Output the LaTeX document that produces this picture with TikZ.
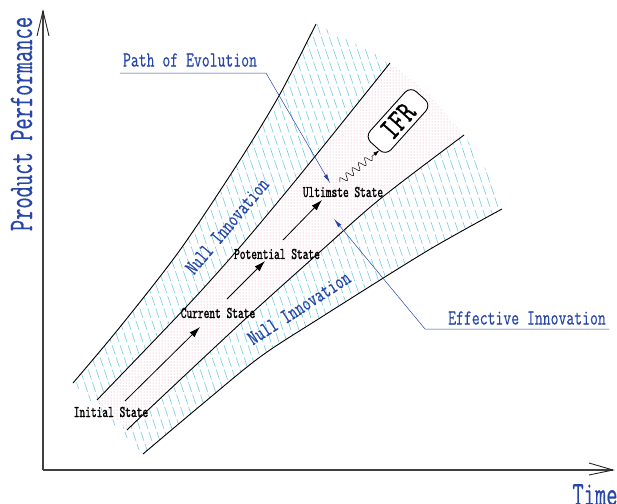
\documentclass[tikz,border=0pt]{standalone}
\usepackage{fontspec}
\usepackage{graphicx}
\usetikzlibrary{arrows.meta,patterns,decorations.pathmorphing,calc}
\newfontfamily\lblfont{Latin Modern Mono}[FakeBold=0.6]
\newfontfamily\lblfontb{Latin Modern Mono}[FakeBold=1.6]
\newfontfamily\ifrfont{Latin Modern Mono}[FakeBold=1.1]
\definecolor{myblue}{RGB}{40,70,170}
\definecolor{hatchc}{RGB}{110,200,220}
\definecolor{pinkdot}{RGB}{225,130,175}
\newcommand\vstretch[2][1.5]{\scalebox{1}[#1]{#2}}
\begin{document}
\begin{tikzpicture}[x=1pt,y=-1pt,
  boundary/.style={line width=0.9pt,black},
  hatchline/.style={draw=hatchc,line width=0.6pt,dash pattern=on 10pt off 3pt},
  leader/.style={myblue,line width=0.5pt,-{Latex[length=9pt,width=4pt]}},
  evo/.style={line width=0.8pt,-{Latex[length=11pt,width=7pt]}},
  axisline/.style={line width=1.4pt,black!75},
  axishead/.style={line width=0.9pt,black!85},
  bluelbl/.style={text=myblue,inner sep=0pt,font=\lblfont\fontsize{15.3}{16}\selectfont},
  bigblue/.style={text=myblue,inner sep=0pt,font=\lblfont\fontsize{21.9}{22}\selectfont},
  blacklbl/.style={inner sep=0pt,font=\lblfontb\fontsize{10.9}{11}\selectfont},
  ifrbox/.style={draw,line width=0.9pt,fill=white,rounded corners=8pt,minimum width=68pt,minimum height=28pt,inner sep=0pt,font=\ifrfont\fontsize{24}{24}\selectfont},
  wavy/.style={line width=0.5pt,decorate,decoration={snake,amplitude=3.5pt,segment length=8pt,post length=7pt},-{Latex[length=6pt,width=4pt]}}
]
\useasboundingbox (0,0) rectangle (617,503);

% hatched (null innovation) region
\begin{scope}
\clip plot[smooth] coordinates {(73,383) (120,327) (180,250) (240,160) (280,94) (316,24)}
 -- plot[smooth] coordinates {(316,24) (340,36) (367,50) (390,63) (427,93) (450,119) (464,135) (487,172) (502,209)}
 -- plot[smooth] coordinates {(502,209) (427,251) (320,318) (260,357) (200,406) (143,454)}
 -- cycle;
\foreach \i in {0,...,66} \draw[hatchline] ({-75+8*\i},0) -- ++(170,510);
\end{scope}

% effective innovation (pink dotted) region
\path[fill=white,postaction={pattern=dots,pattern color=pinkdot!85}]
 plot[smooth] coordinates {(97,400) (188,305) (240,247) (300,175) (390,63)}
 -- plot[smooth] coordinates {(390,63) (427,93) (450,119) (464,135)}
 -- plot[smooth] coordinates {(464,135) (380,199) (322,250) (242,322) (148,410) (127,430)}
 -- cycle;

% boundaries
\draw[boundary] plot[smooth] coordinates {(73,383) (120,327) (180,250) (240,160) (280,94) (316,24)};
\draw[boundary] plot[smooth] coordinates {(97,400) (188,305) (240,247) (300,175) (390,63)};
\draw[boundary] plot[smooth] coordinates {(127,430) (148,410) (242,322) (322,250) (380,199) (464,135)};
\draw[boundary] plot[smooth] coordinates {(143,454) (200,406) (260,357) (320,318) (427,251) (502,209)};

% axes
\coordinate (O) at (43,470);
\coordinate (ytop) at (43,11);
\coordinate (xend) at (613,470);
\draw[axisline] (O) -- (ytop);
\draw[axisline] (O) -- (xend);
\draw[axishead] ([shift={(-6,25)}]ytop) -- (ytop) -- ([shift={(6,25)}]ytop);
\draw[axishead] ([shift={(-24,-7)}]xend) -- (xend) -- ([shift={(-24,5)}]xend);

% axis labels
\node[bigblue,rotate=90] (yl) at (21.5,124) {\vstretch[1.57]{Product Performance}};
\node[bigblue,anchor=north] (xl) at (595,484) {\vstretch[1.57]{Time}};

% evolution arrows
\coordinate (a1s) at (125,401);
\coordinate (a1e) at (200,327);
\coordinate (a2s) at (227,299);
\coordinate (a2e) at (265,261);
\coordinate (a3s) at (283,240);
\coordinate (a3e) at (322,200);
\draw[evo] (a1s) -- (a1e);
\draw[evo] (a2s) -- (a2e);
\draw[evo] (a3s) -- (a3e);

% state labels
\node[blacklbl] (init) at (111,412) {\vstretch{Initial State}};
\node[blacklbl] (curr) at (218,313) {\vstretch{Current State}};
\node[blacklbl] (pot) at (277,254) {\vstretch{Potential State}};
\node[blacklbl] (ult) at (343,192) {\vstretch{Ultimste State}};

% IFR
\node[ifrbox,rotate=48] (ifr) at (398,121) {\vstretch[1.3]{IFR}};
\coordinate (snk) at (340,182);
\draw[wavy] (snk) -- ($(ifr.west)!0.4!(ifr.south west)$);

% null innovation labels
\node[bluelbl,rotate=50] (nu1) at (227,226) {\vstretch[1.4]{Null Innovation}};
\node[bluelbl,rotate=33] (nu2) at (299,308) {\vstretch[1.4]{Null Innovation}};

% path of evolution
\node[bluelbl] (pe) at (190,60) {\vstretch[1.4]{Path of Evolution}};
\coordinate (pe1) at (120,73);
\coordinate (pe2) at (266,73);
\coordinate (pet) at (330,183);
\draw[leader] (pe1) -- (pe2) -- (pet);

% effective innovation
\node[bluelbl] (ei) at (527,318) {\vstretch[1.4]{Effective Innovation}};
\coordinate (ei1) at (609,329);
\coordinate (ei2) at (425,329);
\coordinate (eit) at (334,219);
\draw[leader] (ei1) -- (ei2) -- (eit);
\end{tikzpicture}
\end{document}
